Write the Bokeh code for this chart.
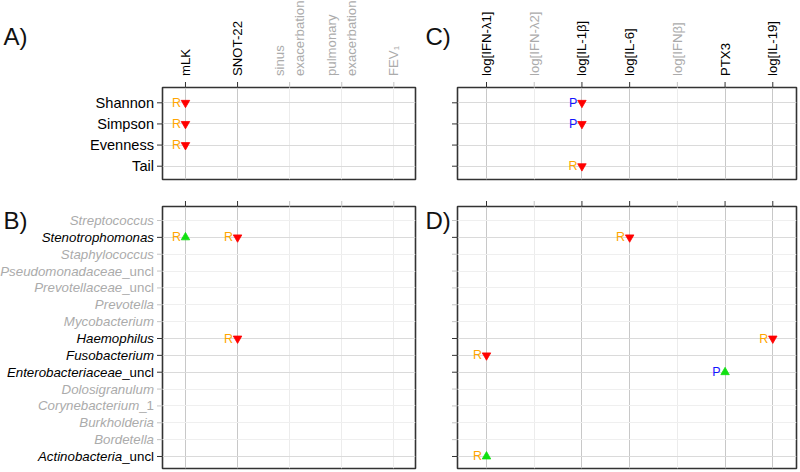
import math
from bokeh.plotting import figure
from bokeh.layouts import column, row
from bokeh.models import Range1d
from bokeh.core.properties import value
from bokeh.embed import file_html
from bokeh.resources import INLINE

FONT = "Liberation Sans"

# ---------------- data ----------------
clin_cols = ["mLK", "SNOT-22", "sinus\nexacerbation", "pulmonary\nexacerbation", "FEV\u2081"]
clin_active = [True, True, False, False, False]

cyto_cols = ["log[IFN-\u03bb1]", "log[IFN-\u03bb2]", "log[IL-1\u03b2]", "log[IL-6]",
             "log[IFN\u03b2]", "PTX3", "log[IL-19]"]
cyto_active = [True, False, True, True, False, True, True]

div_rows = ["Shannon", "Simpson", "Evenness", "Tail"]
div_active = [True, True, True, True]

taxa_names = ["Streptococcus", "Stenotrophomonas", "Staphylococcus", "Pseudomonadaceae",
              "Prevotellaceae", "Prevotella", "Mycobacterium", "Haemophilus", "Fusobacterium",
              "Enterobacteriaceae", "Dolosigranulum", "Corynebacterium", "Burkholderia",
              "Bordetella", "Actinobacteria"]
taxa_suffix = ["", "", "", "_uncl", "_uncl", "", "", "", "", "_uncl", "", "_1", "", "", "_uncl"]
taxa_active = [False, True, False, False, False, False, False, True, True, True,
               False, False, False, False, True]

# associations: column, row, method, direction
a_col = ["mLK", "mLK", "mLK"]
a_row = ["Shannon", "Simpson", "Evenness"]
a_met = ["R", "R", "R"]
a_dir = ["down", "down", "down"]

c_col = ["log[IL-1\u03b2]", "log[IL-1\u03b2]", "log[IL-1\u03b2]"]
c_row = ["Shannon", "Simpson", "Tail"]
c_met = ["P", "P", "R"]
c_dir = ["down", "down", "down"]

b_col = ["mLK", "SNOT-22", "SNOT-22"]
b_row = ["Stenotrophomonas", "Stenotrophomonas", "Haemophilus"]
b_met = ["R", "R", "R"]
b_dir = ["up", "down", "down"]

d_col = ["log[IL-6]", "log[IL-19]", "log[IFN-\u03bb1]", "PTX3", "log[IFN-\u03bb1]"]
d_row = ["Stenotrophomonas", "Haemophilus", "Fusobacterium", "Enterobacteriaceae", "Actinobacteria"]
d_met = ["R", "R", "R", "P", "R"]
d_dir = ["down", "down", "down", "up", "up"]

# ---------------- style ----------------
LBL_ON, LBL_OFF = "#000000", "#ababab"
TICK_ON, TICK_OFF = "#333333", "#c4c4c4"
VG_ON, VG_OFF = "#c8c8c8", "#ececec"
HG_ON, HG_OFF = "#dadada", "#efefef"
MET_COL = {"R": "#ffa500", "P": "#1414ff"}
DIR_MARK = {"down": "inverted_triangle", "up": "triangle"}
DIR_COL = {"down": "#ff0000", "up": "#11e011"}
SUFFIX_EM = {"": 0.0, "_uncl": 2.39, "_1": 1.112}


def panel(cols, col_on, rows, row_on, pc, pr, pm, pd, letter, letter_dx, letter_dy,
          xpad, ypad, w, h, borders, col_labels, row_labels, row_fs,
          italic=False, suffixes=None):
    n, m = len(cols), len(rows)
    xs = list(range(1, n + 1))
    ys = [-j for j in range(m)]
    x0, x1 = 1 - xpad[0], n + xpad[1]
    y0, y1 = -(m - 1) - ypad[1], ypad[0]
    p = figure(width=w, height=h, x_range=Range1d(x0, x1), y_range=Range1d(y0, y1),
               x_axis_location=None, y_axis_location=None, toolbar_location=None,
               output_backend="svg", min_border_left=borders[0], min_border_right=borders[1],
               min_border_top=borders[2], min_border_bottom=borders[3])
    p.grid.visible = False
    p.outline_line_color = "#333333"
    p.outline_line_width = 1.6
    p.background_fill_color = "white"
    p.border_fill_color = "white"

    # grid lines
    p.vspan(x=xs, line_color=[VG_ON if a else VG_OFF for a in col_on], line_width=1)
    p.hspan(y=ys, line_color=[HG_ON if a else HG_OFF for a in row_on], line_width=1)

    # ticks
    p.ray(x=xs, y=[y1] * n, length=5.5, length_units="screen", angle=math.pi / 2,
          line_color=[TICK_ON if a else TICK_OFF for a in col_on], line_width=1, level="overlay")
    p.ray(x=[x0] * m, y=ys, length=5.5, length_units="screen", angle=math.pi,
          line_color=[TICK_ON if a else TICK_OFF for a in row_on], line_width=1, level="overlay")

    # column labels
    if col_labels:
        p.text(x=xs, y=[y1] * n, text=cols, angle=math.pi / 2, y_offset=-11.5,
               text_align="left", text_baseline="middle", text_line_height=1.3,
               text_color=[LBL_ON if a else LBL_OFF for a in col_on],
               text_font=value(FONT), text_font_size="13.2px", level="overlay")
    # row labels
    if row_labels:
        sfx = suffixes if suffixes else [""] * m
        for j in range(m):
            col = LBL_ON if row_on[j] else LBL_OFF
            dx = -8.5
            if sfx[j]:
                p.text(x=[x0], y=[ys[j]], text=[sfx[j]], x_offset=dx, text_align="right",
                       text_baseline="middle", text_color=col, text_font=value(FONT),
                       text_font_size=f"{row_fs}px", level="overlay")
                dx -= SUFFIX_EM[sfx[j]] * row_fs
            p.text(x=[x0], y=[ys[j]], text=[rows[j]], x_offset=dx, text_align="right",
                   text_baseline="middle", text_color=col, text_font=value(FONT),
                   text_font_style="italic" if italic else "normal",
                   text_font_size=f"{row_fs}px", level="overlay")

    # associations
    px = [cols.index(c) + 1 for c in pc]
    py = [-rows.index(r) for r in pr]
    p.scatter(x=px, y=py, marker=[DIR_MARK[d] for d in pd], size=8.5,
              fill_color=[DIR_COL[d] for d in pd], line_color=[DIR_COL[d] for d in pd],
              line_width=0.8)
    p.text(x=px, y=py, text=pm, x_offset=-4.5, text_align="right", text_baseline="middle",
           text_color=[MET_COL[k] for k in pm], text_font=value(FONT), text_font_size="12.5px")

    # panel letter
    p.text(x=[x0], y=[y1], text=[letter], x_offset=letter_dx, y_offset=letter_dy,
           text_align="left", text_baseline="alphabetic", text_color="#111111",
           text_font=value(FONT), text_font_size="24px", level="overlay")
    return p


clin_pad = (0.441, 0.416)
cyto_pad = (0.608, 0.497)
div_pad = (0.724, 0.629)
taxa_pad = (0.831, 0.712)

pA = panel(clin_cols, clin_active, div_rows, div_active, a_col, a_row, a_met, a_dir,
           "A)", -159, -51, clin_pad, div_pad, 423, 195, (162, 8, 87, 16), True, True, 14.6)
pC = panel(cyto_cols, cyto_active, div_rows, div_active, c_col, c_row, c_met, c_dir,
           "C)", -32, -51, cyto_pad, div_pad, 377, 195, (34, 4, 87, 16), True, False, 14.6)
pB = panel(clin_cols, clin_active, taxa_names, taxa_active, b_col, b_row, b_met, b_dir,
           "B)", -159, 14, clin_pad, taxa_pad, 423, 277, (162, 8, 11, 4), False, True, 13.3,
           italic=True, suffixes=taxa_suffix)
pD = panel(cyto_cols, cyto_active, taxa_names, taxa_active, d_col, d_row, d_met, d_dir,
           "D)", -32, 14, cyto_pad, taxa_pad, 377, 277, (34, 4, 11, 4), False, False, 13.3)

layout = column(row(pA, pC), row(pB, pD))
open("out.html", "w").write(file_html(layout, INLINE))
